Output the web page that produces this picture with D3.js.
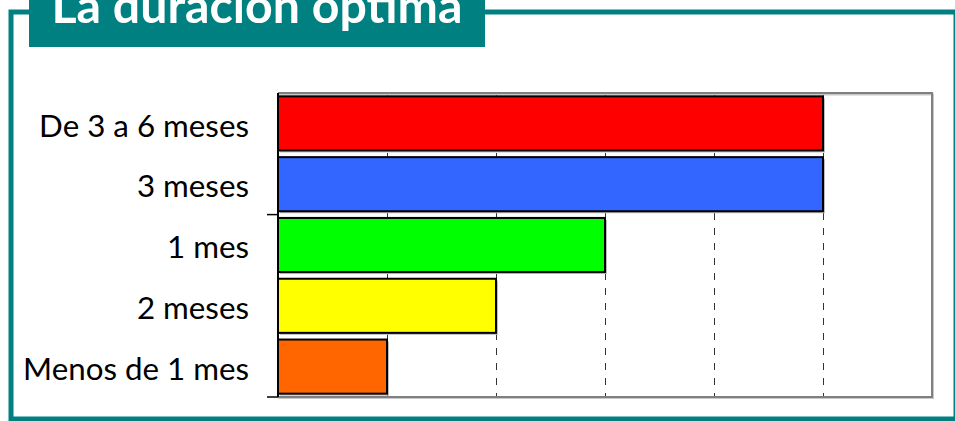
<!DOCTYPE html>
<html>
<head>
<meta charset="utf-8">
<script src="https://cdn.jsdelivr.net/npm/d3@7"></script>
<style>
  html, body { margin: 0; padding: 0; background: #fff; }
  svg { display: block; }
</style>
</head>
<body>
<svg id="chart" width="955" height="421"></svg>
<script>
const title = "La duración óptima";
const categories = ["De 3 a 6 meses", "3 meses", "1 mes", "2 meses", "Menos de 1 mes"];
const values = [5, 5, 3, 2, 1];
const colors = ["#FF0000", "#3366FF", "#00FF00", "#FFFF00", "#FF6600"];
const xTicks = [0, 1, 2, 3, 4, 5, 6];

const svg = d3.select("#chart");
const W = 955, H = 421;
const teal = "#008080";
const m = { left: 278, right: 932, top: 93, bottom: 397 };

// Outer frame
svg.append("rect")
  .attr("x", 11).attr("y", 12)
  .attr("width", 945).attr("height", 407)
  .attr("fill", "none").attr("stroke", teal).attr("stroke-width", 5);

// Title box
svg.append("rect")
  .attr("x", 29).attr("y", -5)
  .attr("width", 456).attr("height", 52)
  .attr("fill", teal);

const titleText = svg.append("text")
  .attr("x", 257).attr("y", 23)
  .attr("text-anchor", "middle")
  .attr("fill", "#fff")
  .attr("font-family", "Lato, 'Open Sans', sans-serif")
  .attr("font-weight", "bold")
  .attr("font-size", 50)
  .text(title);
{
  const w = titleText.node().getComputedTextLength();
  titleText.attr("font-size", 50 * 411 / w);
}

const x = d3.scaleLinear().domain([0, 6]).range([m.left, m.right]);
const y = d3.scaleBand().domain(categories).range([m.top, m.bottom])
  .paddingInner(0.11).paddingOuter(0.055);

// Plot background
svg.append("rect")
  .attr("x", m.left).attr("y", m.top)
  .attr("width", m.right - m.left).attr("height", m.bottom - m.top)
  .attr("fill", "#fff");

// Gridlines (dashed)
svg.append("g").selectAll("line")
  .data(xTicks.filter(d => d > 0 && d < 6))
  .join("line")
  .attr("x1", d => Math.round(x(d)) + 0.5).attr("x2", d => Math.round(x(d)) + 0.5)
  .attr("y1", m.top).attr("y2", m.bottom)
  .attr("stroke", "#333").attr("stroke-width", 1)
  .attr("stroke-dasharray", "7,8");

// Plot border (top/right gray, with light shadow)
svg.append("path")
  .attr("d", `M${m.left},${m.top + 1.5}H${m.right + 1}V${m.bottom + 1}H${m.left}`)
  .attr("fill", "none").attr("stroke", "#c8c8c8").attr("stroke-width", 2);
svg.append("path")
  .attr("d", `M${m.left},${m.top}H${m.right}V${m.bottom}H${m.left}`)
  .attr("fill", "none").attr("stroke", "#808080").attr("stroke-width", 2);

// Bars: shadow then bar
const bars = svg.append("g");
bars.selectAll("rect.shadow")
  .data(categories)
  .join("rect")
  .attr("class", "shadow")
  .attr("x", x(0) + 2)
  .attr("y", d => y(d) + 2)
  .attr("width", (d, i) => x(values[i]) - x(0))
  .attr("height", y.bandwidth())
  .attr("fill", "#bdbdbd");
bars.selectAll("rect.bar")
  .data(categories)
  .join("rect")
  .attr("class", "bar")
  .attr("x", x(0))
  .attr("y", d => y(d))
  .attr("width", (d, i) => x(values[i]) - x(0))
  .attr("height", y.bandwidth())
  .attr("fill", (d, i) => colors[i])
  .attr("stroke", "#000").attr("stroke-width", 2);

// Category axis
const yAxis = svg.append("g")
  .attr("transform", `translate(${m.left},0)`)
  .call(d3.axisLeft(y).tickSize(0).tickPadding(29));
yAxis.select(".domain").remove();
yAxis.selectAll("text")
  .attr("font-family", "Lato, 'Open Sans', sans-serif")
  .attr("font-size", 31)
  .attr("fill", "#000")
  .attr("dy", "0.42em");
{
  let maxW = 0;
  yAxis.selectAll("text").each(function () {
    maxW = Math.max(maxW, this.getComputedTextLength());
  });
  yAxis.selectAll("text").attr("font-size", 31 * 226 / maxW);
}

// Axis line with ticks every 3 categories from bottom
svg.append("line")
  .attr("x1", m.left).attr("x2", m.left)
  .attr("y1", m.top).attr("y2", m.bottom)
  .attr("stroke", "#000").attr("stroke-width", 2);
const step = y.step();
const tickYs = [m.bottom, y(categories[2]) - (y.paddingInner() * step) / 2];
svg.append("g").selectAll("line")
  .data(tickYs)
  .join("line")
  .attr("x1", m.left - 11).attr("x2", m.left)
  .attr("y1", d => d).attr("y2", d => d)
  .attr("stroke", "#000").attr("stroke-width", 1.5);
</script>
</body>
</html>
